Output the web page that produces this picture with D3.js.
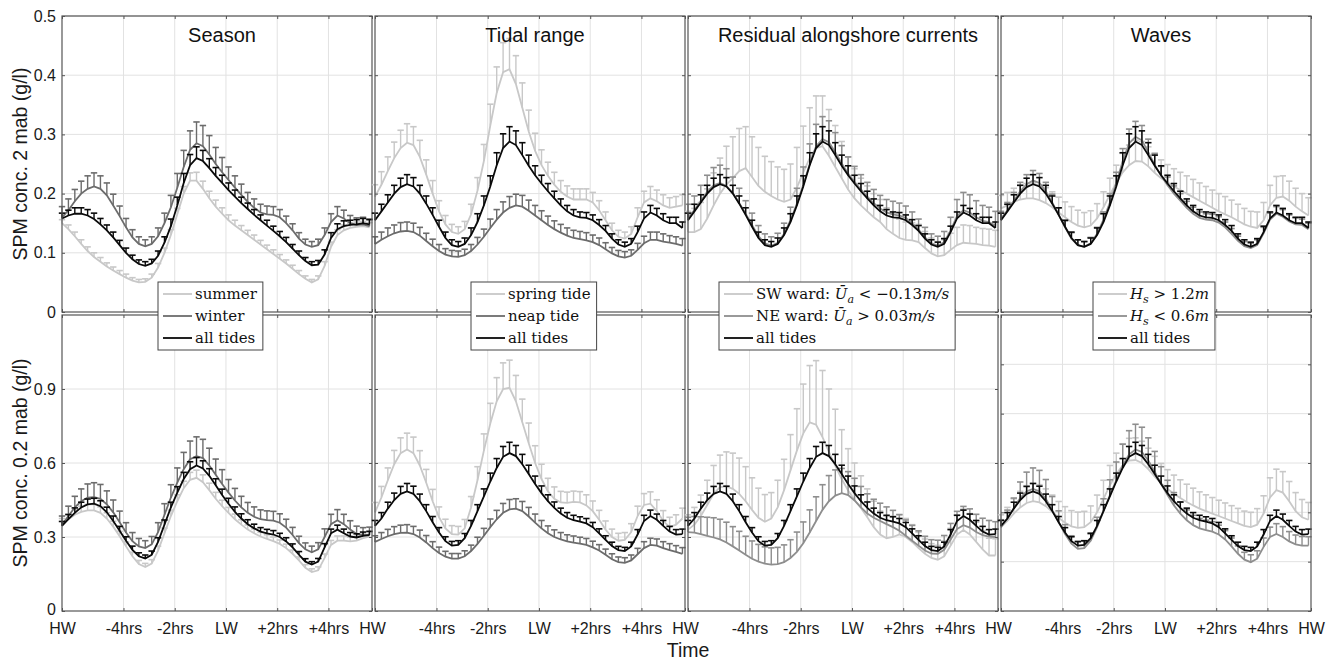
<!DOCTYPE html>
<html>
<head>
<meta charset="utf-8">
<script src="https://cdn.jsdelivr.net/npm/d3@7"></script>
<style>
body { margin: 0; background: #fff; }
text { font-family: "Liberation Sans", Arial, sans-serif; }
</style>
</head>
<body>
<svg id="chart" width="1335" height="668"></svg>
<script>

// time axis: hours relative to low water
var hours = [-6.4,-6.15,-5.9,-5.65,-5.4,-5.15,-4.9,-4.65,-4.4,-4.15,-3.9,-3.65,-3.4,-3.15,-2.9,-2.65,-2.4,-2.15,-1.9,-1.65,
  -1.4,-1.15,-0.9,-0.65,-0.4,-0.15,0.1,0.35,0.6,0.85,1.1,1.35,1.6,1.85,2.1,2.35,2.6,2.85,3.1,3.35,
  3.6,3.85,4.1,4.35,4.6,4.85,5.1,5.35,5.6];
var xDomain = [-6.4, 5.7];
var xTickVals = [-6.4, -4, -2, 0, 2, 4, 5.7];
var xTickLabels = ["HW", "-4hrs", "-2hrs", "LW", "+2hrs", "+4hrs", "HW"];
var titles = ["Season", "Tidal range", "Residual alongshore currents", "Waves"];
var yLabels = ["SPM conc. 2 mab (g/l)", "SPM conc. 0.2 mab (g/l)"];
var yTicksTop = [0, 0.1, 0.2, 0.3, 0.4, 0.5];
var yTicksBottom = [0, 0.3, 0.6, 0.9];
var yTicksWavesBottom = [0, 0.2, 0.4, 0.6, 0.8, 1.0];

// ---- 2 mab (top row) ----
var allTides2 = [0.155,0.170,0.185,0.200,0.211,0.216,0.212,0.200,0.183,0.164,0.144,0.125,0.113,0.110,0.115,0.130,0.152,0.180,0.212,0.248,
  0.277,0.288,0.282,0.265,0.247,0.231,0.217,0.204,0.192,0.180,0.170,0.163,0.160,0.159,0.155,0.147,0.137,0.124,0.114,0.110,
  0.115,0.135,0.158,0.168,0.163,0.155,0.150,0.150,0.142];
var allTides2Err = [0.012,0.012,0.013,0.014,0.015,0.016,0.015,0.014,0.013,0.012,0.011,0.010,0.009,0.009,0.010,0.012,0.014,0.016,0.018,0.021,
  0.024,0.025,0.024,0.021,0.018,0.016,0.014,0.013,0.012,0.011,0.010,0.010,0.009,0.009,0.009,0.009,0.009,0.008,0.008,0.008,
  0.009,0.010,0.011,0.012,0.012,0.011,0.010,0.010,0.010];

var summer2 = [0.150,0.140,0.128,0.115,0.103,0.093,0.085,0.077,0.070,0.064,0.058,0.053,0.050,0.051,0.058,0.075,0.100,0.130,0.165,0.200,
  0.222,0.222,0.208,0.192,0.178,0.166,0.155,0.146,0.138,0.130,0.122,0.114,0.106,0.098,0.090,0.082,0.073,0.064,0.056,0.050,
  0.055,0.078,0.110,0.130,0.138,0.142,0.144,0.145,0.143];
var summer2Err = [0.006,0.007,0.007,0.007,0.007,0.007,0.007,0.006,0.006,0.006,0.006,0.005,0.005,0.005,0.006,0.007,0.008,0.009,0.010,0.012,
  0.013,0.014,0.013,0.012,0.011,0.010,0.009,0.009,0.008,0.008,0.008,0.007,0.007,0.007,0.007,0.006,0.006,0.006,0.005,0.005,
  0.006,0.007,0.008,0.009,0.009,0.008,0.008,0.008,0.008];
var winter2 = [0.160,0.172,0.187,0.200,0.208,0.212,0.208,0.197,0.180,0.162,0.143,0.126,0.115,0.111,0.115,0.128,0.150,0.177,0.210,0.245,
  0.274,0.285,0.280,0.266,0.250,0.236,0.223,0.210,0.198,0.186,0.176,0.168,0.165,0.164,0.160,0.150,0.138,0.124,0.114,0.110,
  0.113,0.130,0.152,0.163,0.158,0.150,0.147,0.148,0.145];
var winter2Err = [0.018,0.019,0.020,0.021,0.022,0.023,0.022,0.021,0.019,0.017,0.015,0.013,0.012,0.011,0.012,0.014,0.017,0.020,0.024,0.028,
  0.032,0.036,0.035,0.032,0.028,0.025,0.022,0.020,0.018,0.016,0.015,0.014,0.014,0.014,0.013,0.012,0.011,0.010,0.009,0.009,
  0.010,0.012,0.014,0.015,0.014,0.013,0.012,0.012,0.012];
var seasonAll2 = [0.158,0.163,0.166,0.166,0.163,0.157,0.148,0.138,0.126,0.113,0.100,0.089,0.081,0.078,0.082,0.095,0.117,0.145,0.180,0.218,
  0.248,0.260,0.255,0.243,0.230,0.218,0.206,0.195,0.184,0.174,0.164,0.155,0.146,0.137,0.128,0.118,0.107,0.096,0.086,0.079,
  0.080,0.097,0.125,0.140,0.145,0.147,0.148,0.150,0.148];
var seasonAll2Err = [0.009,0.009,0.010,0.010,0.010,0.010,0.010,0.009,0.009,0.008,0.008,0.007,0.007,0.007,0.007,0.008,0.010,0.012,0.014,0.016,
  0.018,0.019,0.018,0.016,0.014,0.013,0.012,0.011,0.010,0.010,0.009,0.009,0.009,0.008,0.008,0.008,0.007,0.007,0.006,0.006,
  0.007,0.008,0.009,0.009,0.009,0.008,0.008,0.008,0.008];

var spring2 = [0.195,0.215,0.238,0.260,0.277,0.286,0.282,0.262,0.232,0.200,0.170,0.148,0.135,0.132,0.140,0.165,0.205,0.255,0.315,0.370,
  0.405,0.410,0.385,0.345,0.305,0.272,0.248,0.230,0.215,0.203,0.195,0.190,0.190,0.190,0.185,0.172,0.155,0.138,0.127,0.124,
  0.132,0.160,0.185,0.192,0.187,0.180,0.176,0.178,0.180];
var spring2Err = [0.020,0.022,0.024,0.027,0.030,0.032,0.031,0.028,0.025,0.022,0.018,0.015,0.013,0.012,0.013,0.017,0.022,0.028,0.036,0.044,
  0.050,0.052,0.048,0.042,0.036,0.030,0.026,0.023,0.021,0.019,0.018,0.018,0.018,0.018,0.017,0.016,0.014,0.012,0.011,0.011,
  0.012,0.016,0.019,0.020,0.019,0.018,0.017,0.017,0.018];
var neap2 = [0.115,0.122,0.128,0.133,0.136,0.137,0.135,0.129,0.120,0.111,0.103,0.097,0.094,0.093,0.096,0.103,0.114,0.127,0.142,0.156,
  0.168,0.176,0.180,0.178,0.171,0.163,0.155,0.147,0.140,0.134,0.129,0.125,0.123,0.121,0.118,0.113,0.106,0.099,0.094,0.092,
  0.095,0.105,0.116,0.122,0.122,0.119,0.117,0.115,0.112];
var neap2Err = [0.012,0.013,0.014,0.014,0.015,0.015,0.015,0.014,0.013,0.012,0.011,0.010,0.010,0.010,0.010,0.011,0.012,0.013,0.015,0.017,
  0.018,0.019,0.019,0.019,0.018,0.017,0.016,0.015,0.014,0.014,0.013,0.013,0.013,0.013,0.012,0.012,0.011,0.010,0.010,0.010,
  0.010,0.011,0.012,0.013,0.013,0.013,0.012,0.012,0.012];

var swWard2 = [0.135,0.135,0.140,0.158,0.180,0.200,0.215,0.226,0.238,0.243,0.228,0.213,0.203,0.196,0.190,0.186,0.190,0.210,0.236,0.260,
  0.277,0.280,0.264,0.245,0.226,0.207,0.192,0.180,0.170,0.160,0.152,0.140,0.132,0.125,0.122,0.121,0.118,0.108,0.099,0.094,
  0.096,0.105,0.113,0.117,0.116,0.115,0.113,0.112,0.110];
var swWard2Err = [0.035,0.040,0.045,0.050,0.055,0.060,0.065,0.070,0.072,0.070,0.068,0.065,0.060,0.058,0.055,0.055,0.060,0.068,0.078,0.085,
  0.088,0.085,0.078,0.070,0.062,0.055,0.050,0.046,0.043,0.040,0.038,0.036,0.034,0.032,0.030,0.030,0.030,0.028,0.026,0.025,
  0.026,0.028,0.030,0.030,0.030,0.028,0.028,0.028,0.028];
var neWard2 = [0.160,0.172,0.188,0.203,0.214,0.218,0.213,0.201,0.184,0.166,0.147,0.128,0.116,0.112,0.117,0.132,0.155,0.183,0.215,0.250,
  0.280,0.292,0.287,0.270,0.251,0.234,0.220,0.207,0.195,0.184,0.175,0.168,0.165,0.163,0.159,0.150,0.139,0.126,0.116,0.112,
  0.118,0.138,0.162,0.172,0.168,0.160,0.154,0.152,0.146];
var neWard2Err = [0.022,0.024,0.026,0.028,0.030,0.030,0.029,0.027,0.025,0.022,0.020,0.018,0.016,0.015,0.016,0.018,0.022,0.026,0.030,0.034,
  0.037,0.038,0.036,0.033,0.030,0.028,0.026,0.025,0.024,0.023,0.022,0.022,0.022,0.021,0.020,0.019,0.018,0.017,0.016,0.016,
  0.018,0.022,0.028,0.030,0.030,0.028,0.026,0.025,0.024];

var hsHigh2 = [0.175,0.180,0.186,0.190,0.192,0.192,0.189,0.184,0.177,0.168,0.160,0.152,0.146,0.143,0.146,0.158,0.177,0.198,0.218,0.236,
  0.248,0.255,0.254,0.246,0.235,0.226,0.219,0.212,0.206,0.200,0.194,0.188,0.182,0.176,0.170,0.165,0.160,0.154,0.148,0.144,
  0.142,0.155,0.180,0.193,0.195,0.188,0.178,0.170,0.163];
var hsHigh2Err = [0.022,0.022,0.023,0.024,0.025,0.026,0.026,0.026,0.026,0.026,0.026,0.026,0.026,0.025,0.025,0.025,0.026,0.028,0.030,0.032,
  0.034,0.035,0.034,0.033,0.032,0.031,0.030,0.030,0.030,0.030,0.030,0.030,0.030,0.030,0.030,0.030,0.029,0.028,0.027,0.026,
  0.027,0.030,0.034,0.036,0.035,0.033,0.031,0.030,0.030];
var hsLow2 = [0.158,0.172,0.188,0.204,0.216,0.222,0.218,0.204,0.185,0.164,0.143,0.124,0.113,0.110,0.116,0.132,0.156,0.185,0.218,0.255,
  0.285,0.296,0.290,0.270,0.249,0.230,0.214,0.200,0.188,0.176,0.166,0.159,0.156,0.155,0.151,0.143,0.132,0.120,0.111,0.108,
  0.113,0.133,0.156,0.166,0.161,0.153,0.148,0.147,0.140];
var hsLow2Err = [0.012,0.013,0.014,0.015,0.016,0.017,0.016,0.015,0.014,0.012,0.011,0.010,0.009,0.009,0.010,0.011,0.013,0.015,0.018,0.021,
  0.024,0.026,0.025,0.022,0.019,0.016,0.014,0.013,0.012,0.011,0.011,0.010,0.010,0.010,0.010,0.009,0.009,0.008,0.008,0.008,
  0.009,0.010,0.011,0.012,0.012,0.011,0.011,0.010,0.010];

// ---- 0.2 mab (bottom row) ----
var allTides02 = [0.345,0.375,0.415,0.450,0.475,0.485,0.475,0.445,0.405,0.360,0.318,0.283,0.265,0.268,0.295,0.345,0.405,0.465,0.525,0.580,
  0.625,0.640,0.628,0.595,0.555,0.515,0.478,0.445,0.418,0.395,0.378,0.368,0.362,0.355,0.340,0.315,0.288,0.263,0.247,0.243,
  0.262,0.310,0.365,0.385,0.370,0.345,0.322,0.310,0.312];
var allTides02Err = [0.022,0.024,0.026,0.028,0.030,0.032,0.031,0.029,0.026,0.023,0.020,0.018,0.017,0.017,0.019,0.022,0.026,0.030,0.034,0.038,
  0.042,0.044,0.043,0.040,0.036,0.032,0.029,0.026,0.024,0.022,0.021,0.020,0.020,0.020,0.019,0.018,0.017,0.016,0.015,0.015,
  0.017,0.020,0.023,0.024,0.023,0.022,0.021,0.020,0.020];

var summer02 = [0.355,0.372,0.390,0.402,0.408,0.408,0.398,0.375,0.342,0.303,0.262,0.222,0.190,0.178,0.192,0.245,0.315,0.385,0.445,0.498,
  0.532,0.540,0.522,0.490,0.455,0.425,0.398,0.372,0.350,0.330,0.315,0.302,0.292,0.283,0.272,0.255,0.232,0.205,0.175,0.158,
  0.165,0.215,0.268,0.285,0.285,0.282,0.285,0.295,0.302];
var summer02Err = [0.020,0.021,0.022,0.023,0.024,0.024,0.024,0.023,0.022,0.020,0.018,0.016,0.015,0.015,0.016,0.018,0.021,0.024,0.026,0.028,
  0.030,0.031,0.030,0.028,0.026,0.024,0.022,0.021,0.020,0.019,0.018,0.017,0.017,0.017,0.016,0.016,0.015,0.014,0.013,0.013,
  0.014,0.016,0.018,0.019,0.019,0.018,0.018,0.018,0.018];
var winter02 = [0.350,0.385,0.420,0.445,0.460,0.462,0.455,0.432,0.400,0.360,0.318,0.283,0.262,0.255,0.270,0.320,0.390,0.460,0.520,0.575,
  0.615,0.628,0.620,0.590,0.552,0.515,0.480,0.448,0.420,0.398,0.382,0.372,0.368,0.366,0.358,0.338,0.308,0.275,0.250,0.238,
  0.250,0.300,0.352,0.368,0.352,0.330,0.312,0.308,0.310];
var winter02Err = [0.035,0.040,0.045,0.050,0.055,0.058,0.058,0.055,0.050,0.045,0.040,0.035,0.032,0.030,0.032,0.038,0.045,0.052,0.060,0.068,
  0.074,0.078,0.076,0.070,0.064,0.058,0.053,0.049,0.045,0.042,0.040,0.038,0.038,0.038,0.036,0.034,0.031,0.028,0.026,0.025,
  0.027,0.033,0.040,0.043,0.040,0.036,0.032,0.030,0.030];
var seasonAll02 = [0.345,0.372,0.398,0.420,0.432,0.435,0.425,0.400,0.365,0.325,0.285,0.248,0.222,0.213,0.228,0.280,0.350,0.420,0.480,0.535,
  0.575,0.590,0.578,0.548,0.510,0.470,0.435,0.402,0.375,0.352,0.335,0.322,0.315,0.310,0.300,0.282,0.258,0.228,0.200,0.188,
  0.200,0.258,0.315,0.330,0.315,0.302,0.298,0.305,0.308];
var seasonAll02Err = [0.018,0.019,0.020,0.021,0.022,0.022,0.022,0.021,0.020,0.018,0.016,0.015,0.014,0.014,0.015,0.017,0.019,0.021,0.024,0.027,
  0.030,0.032,0.031,0.029,0.026,0.024,0.022,0.020,0.019,0.018,0.017,0.016,0.016,0.016,0.015,0.015,0.014,0.013,0.012,0.012,
  0.013,0.015,0.017,0.018,0.017,0.016,0.015,0.015,0.015];

var spring02 = [0.400,0.460,0.530,0.595,0.640,0.655,0.640,0.590,0.520,0.445,0.380,0.335,0.312,0.310,0.335,0.420,0.530,0.650,0.760,0.850,
  0.900,0.905,0.850,0.765,0.680,0.600,0.535,0.485,0.455,0.440,0.438,0.442,0.440,0.428,0.405,0.370,0.330,0.300,0.285,0.288,
  0.320,0.385,0.430,0.435,0.405,0.365,0.340,0.350,0.375];
var spring02Err = [0.040,0.045,0.050,0.056,0.062,0.066,0.065,0.060,0.054,0.048,0.042,0.037,0.034,0.033,0.036,0.044,0.055,0.068,0.082,0.096,
  0.106,0.112,0.105,0.094,0.082,0.070,0.060,0.053,0.048,0.045,0.044,0.044,0.044,0.043,0.041,0.038,0.035,0.032,0.030,0.030,
  0.034,0.040,0.046,0.048,0.046,0.042,0.040,0.040,0.042];
var neap02 = [0.280,0.292,0.303,0.312,0.317,0.318,0.312,0.298,0.278,0.255,0.235,0.220,0.212,0.212,0.222,0.243,0.272,0.305,0.340,0.372,
  0.398,0.412,0.415,0.405,0.383,0.358,0.335,0.315,0.300,0.290,0.282,0.277,0.273,0.268,0.258,0.245,0.228,0.210,0.198,0.195,
  0.205,0.230,0.255,0.268,0.265,0.255,0.247,0.240,0.232];
var neap02Err = [0.025,0.026,0.028,0.030,0.031,0.032,0.031,0.030,0.028,0.026,0.024,0.022,0.021,0.021,0.022,0.024,0.027,0.030,0.033,0.036,
  0.038,0.040,0.040,0.039,0.037,0.035,0.032,0.030,0.029,0.028,0.027,0.027,0.026,0.026,0.025,0.024,0.023,0.022,0.021,0.021,
  0.022,0.024,0.026,0.027,0.027,0.026,0.026,0.025,0.025];

var swWard02 = [0.330,0.350,0.385,0.430,0.475,0.502,0.505,0.495,0.475,0.445,0.410,0.378,0.362,0.375,0.420,0.490,0.570,0.650,0.720,0.765,
  0.755,0.705,0.645,0.588,0.535,0.488,0.450,0.418,0.380,0.340,0.310,0.295,0.300,0.310,0.300,0.280,0.255,0.232,0.215,0.208,
  0.222,0.265,0.310,0.328,0.310,0.280,0.250,0.225,0.225];
var swWard02Err = [0.060,0.070,0.085,0.100,0.115,0.130,0.140,0.145,0.145,0.140,0.130,0.120,0.110,0.105,0.110,0.125,0.145,0.170,0.200,0.230,
  0.260,0.270,0.255,0.230,0.200,0.170,0.150,0.130,0.115,0.105,0.095,0.090,0.085,0.080,0.075,0.070,0.065,0.060,0.058,0.058,
  0.062,0.070,0.080,0.085,0.085,0.080,0.075,0.070,0.068];
var neWard02 = [0.320,0.318,0.312,0.305,0.298,0.290,0.278,0.262,0.245,0.228,0.212,0.200,0.192,0.188,0.190,0.198,0.215,0.240,0.275,0.318,
  0.365,0.410,0.445,0.468,0.478,0.470,0.448,0.420,0.395,0.378,0.365,0.352,0.340,0.325,0.305,0.285,0.265,0.245,0.233,0.232,
  0.248,0.290,0.332,0.348,0.338,0.320,0.308,0.302,0.300];
var neWard02Err = [0.060,0.065,0.070,0.075,0.080,0.082,0.082,0.080,0.078,0.075,0.072,0.070,0.068,0.068,0.068,0.070,0.074,0.080,0.086,0.092,
  0.098,0.102,0.104,0.104,0.100,0.095,0.090,0.085,0.080,0.075,0.072,0.070,0.068,0.066,0.064,0.062,0.060,0.058,0.056,0.055,
  0.058,0.065,0.072,0.076,0.076,0.072,0.068,0.065,0.062];

var hsHigh02 = [0.340,0.365,0.395,0.420,0.438,0.445,0.440,0.425,0.402,0.378,0.358,0.343,0.337,0.340,0.360,0.400,0.455,0.510,0.555,0.590,
  0.610,0.612,0.600,0.575,0.545,0.518,0.495,0.475,0.458,0.442,0.428,0.415,0.405,0.395,0.385,0.375,0.365,0.355,0.345,0.340,
  0.350,0.395,0.460,0.490,0.480,0.445,0.405,0.380,0.370];
var hsHigh02Err = [0.050,0.055,0.060,0.065,0.070,0.072,0.072,0.070,0.068,0.066,0.065,0.064,0.064,0.064,0.066,0.070,0.075,0.080,0.085,0.088,
  0.090,0.090,0.088,0.085,0.082,0.080,0.078,0.076,0.074,0.072,0.070,0.068,0.066,0.065,0.064,0.063,0.062,0.061,0.060,0.060,
  0.065,0.072,0.080,0.085,0.085,0.080,0.075,0.072,0.070];
var hsLow02 = [0.340,0.375,0.418,0.458,0.485,0.495,0.485,0.455,0.410,0.360,0.312,0.273,0.252,0.255,0.285,0.340,0.405,0.470,0.530,0.590,
  0.635,0.655,0.645,0.610,0.565,0.515,0.470,0.428,0.395,0.368,0.348,0.335,0.328,0.322,0.310,0.290,0.262,0.232,0.208,0.198,
  0.212,0.260,0.300,0.312,0.300,0.282,0.270,0.265,0.265];
var hsLow02Err = [0.030,0.034,0.040,0.065,0.078,0.085,0.085,0.078,0.054,0.046,0.038,0.032,0.028,0.028,0.032,0.040,0.050,0.062,0.074,0.086,
  0.096,0.102,0.100,0.092,0.082,0.070,0.060,0.052,0.046,0.042,0.040,0.040,0.040,0.040,0.038,0.036,0.034,0.032,0.030,0.030,
  0.032,0.036,0.040,0.042,0.042,0.040,0.038,0.037,0.036];

// legend texts, split into [text, style] pieces (i = italic, s = italic subscript)
var legendLabels = [
  [[["summer", ""]], [["winter", ""]], [["all tides", ""]]],
  [[["spring tide", ""]], [["neap tide", ""]], [["all tides", ""]]],
  [[["SW ward:  ", ""], ["U\u0304", "i"], ["a", "s"], [" < \u22120.13", ""], ["m/s", "i"]],
   [["NE ward:  ", ""], ["U\u0304", "i"], ["a", "s"], [" > 0.03", ""], ["m/s", "i"]],
   [["all tides", ""]]],
  [[["H", "i"], ["s", "s"], [" > 1.2", ""], ["m", "i"]],
   [["H", "i"], ["s", "s"], [" < 0.6", ""], ["m", "i"]],
   [["all tides", ""]]]
];

var light = "#c8c8c8", dark = "#6c6c6c", mid = "#8e8e8e", black = "#0a0a0a";

var panelLeft = [62, 375, 688, 1001], panelW = 310;
var rows = [
  {top: 16, bottom: 312, max: 0.5, ticks: yTicksTop},
  {top: 315, bottom: 611, max: 1.2, ticks: yTicksBottom}
];
var legendLeft = [158, 471, 719, 1093];

var panels = [
  {row: 0, col: 0, series: [[summer2, summer2Err, light], [winter2, winter2Err, dark], [seasonAll2, seasonAll2Err, black]]},
  {row: 0, col: 1, series: [[spring2, spring2Err, light], [neap2, neap2Err, dark], [allTides2, allTides2Err, black]]},
  {row: 0, col: 2, series: [[swWard2, swWard2Err, light], [neWard2, neWard2Err, mid], [allTides2, allTides2Err, black]]},
  {row: 0, col: 3, series: [[hsHigh2, hsHigh2Err, light], [hsLow2, hsLow2Err, mid], [allTides2, allTides2Err, black]]},
  {row: 1, col: 0, series: [[summer02, summer02Err, light], [winter02, winter02Err, dark], [seasonAll02, seasonAll02Err, black]]},
  {row: 1, col: 1, series: [[spring02, spring02Err, light], [neap02, neap02Err, dark], [allTides02, allTides02Err, black]]},
  {row: 1, col: 2, series: [[swWard02, swWard02Err, light], [neWard02, neWard02Err, mid], [allTides02, allTides02Err, black]]},
  {row: 1, col: 3, yTicks: yTicksWavesBottom, series: [[hsHigh02, hsHigh02Err, light], [hsLow02, hsLow02Err, mid], [allTides02, allTides02Err, black]]}
];

var svg = d3.select("#chart");

function drawPanel(p) {
    var row = rows[p.row];
    var x0 = panelLeft[p.col];
    var x = d3.scaleLinear().domain(xDomain).range([x0, x0 + panelW]);
    var y = d3.scaleLinear().domain([0, row.max]).range([row.bottom, row.top]);
    var yt = p.yTicks || row.ticks;
    var g = svg.append("g");

    // grid
    g.selectAll(".gx").data(xTickVals.slice(1, -1)).enter()
        .append("line")
        .attr("x1", function(d) { return x(d); })
        .attr("x2", function(d) { return x(d); })
        .attr("y1", row.top).attr("y2", row.bottom)
        .style("stroke", "#e2e2e2").style("stroke-width", 1);
    g.selectAll(".gy").data(yt.filter(function(d) { return d > 0; })).enter()
        .append("line")
        .attr("x1", x0).attr("x2", x0 + panelW)
        .attr("y1", function(d) { return y(d); })
        .attr("y2", function(d) { return y(d); })
        .style("stroke", "#e2e2e2").style("stroke-width", 1);

    // series with upper error bars
    var line = d3.line()
        .x(function(d, i) { return x(hours[i]); })
        .y(function(d) { return y(d); });
    p.series.forEach(function(s) {
        var vals = s[0], errs = s[1], col = s[2];
        var sg = g.append("g");
        sg.append("path")
            .attr("d", line(vals))
            .style("fill", "none")
            .style("stroke", col)
            .style("stroke-width", 1.8);
        var bars = sg.selectAll(".eb").data(vals).enter().append("g");
        bars.append("line")
            .attr("x1", function(d, i) { return x(hours[i]); })
            .attr("x2", function(d, i) { return x(hours[i]); })
            .attr("y1", function(d) { return y(d); })
            .attr("y2", function(d, i) { return y(d + errs[i]); })
            .style("stroke", col).style("stroke-width", 1.4);
        bars.append("line")
            .attr("x1", function(d, i) { return x(hours[i]) - 3.2; })
            .attr("x2", function(d, i) { return x(hours[i]) + 3.2; })
            .attr("y1", function(d, i) { return y(d + errs[i]); })
            .attr("y2", function(d, i) { return y(d + errs[i]); })
            .style("stroke", col).style("stroke-width", 1.6);
    });

    // axes, ticks inward on every side
    var ax = [
        {a: d3.axisBottom(x).tickValues(xTickVals), t: "translate(0," + row.bottom + ")", lab: p.row == 1},
        {a: d3.axisTop(x).tickValues(xTickVals), t: "translate(0," + row.top + ")", lab: false},
        {a: d3.axisLeft(y).tickValues(yt), t: "translate(" + x0 + ",0)", lab: p.col == 0},
        {a: d3.axisRight(y).tickValues(yt), t: "translate(" + (x0 + panelW) + ",0)", lab: false}
    ];
    ax.forEach(function(o, k) {
        o.a.tickSizeInner(-3).tickSizeOuter(0);
        if (!o.lab) o.a.tickFormat("");
        else if (k == 0) o.a.tickFormat(function(d, i) {
            // the left "HW" of inner panels sits under the right "HW" of the previous panel
            return (i == 0 && p.col > 0) ? "" : xTickLabels[i];
        }).tickPadding(12);
        else o.a.tickFormat(function(d) { return d; }).tickPadding(6);
        var a = g.append("g").attr("transform", o.t).call(o.a);
        a.select(".domain").remove();
        a.selectAll("line").style("stroke", "#555");
        a.selectAll("text")
            .style("font-family", "'Liberation Sans', Arial, sans-serif")
            .style("font-size", "16px")
            .style("fill", "#1a1a1a");
        // lift the bottom "0" a little so it clears the HW label
        if (k == 2 && p.row == 1) {
            a.selectAll("text").filter(function(d) { return d === 0; }).attr("dy", "0.2em");
        }
    });

    g.append("rect")
        .attr("x", x0).attr("y", row.top)
        .attr("width", panelW).attr("height", row.bottom - row.top)
        .style("fill", "none").style("stroke", "#555").style("stroke-width", 1.2);

    if (p.row == 0) {
        g.append("text")
            .attr("x", x0 + panelW / 2 + 5)
            .attr("y", 42)
            .style("text-anchor", "middle")
            .style("font-size", "20px")
            .style("fill", "#111")
            .text(titles[p.col]);
    }
}

panels.forEach(drawPanel);

// y labels
yLabels.forEach(function(lab, r) {
    var cy = (rows[r].top + rows[r].bottom) / 2;
    svg.append("text")
        .attr("transform", "translate(27," + cy + ") rotate(-90)")
        .style("text-anchor", "middle")
        .style("font-size", "19.5px")
        .style("fill", "#1a1a1a")
        .text(lab);
});

svg.append("text")
    .attr("x", 688).attr("y", 657)
    .style("text-anchor", "middle")
    .style("font-size", "19.5px")
    .style("fill", "#1a1a1a")
    .text("Time");

// legends, on top of everything
var legendColors = [[light, dark, black], [light, dark, black], [light, mid, black], [light, mid, black]];
legendLabels.forEach(function(entries, c) {
    var lx = legendLeft[c], ly = 282;
    var lg = svg.append("g");
    var box = lg.append("rect")
        .attr("x", lx).attr("y", ly)
        .attr("height", 68)
        .style("fill", "#fff").style("stroke", "#444").style("stroke-width", 1);
    var maxW = 0;
    entries.forEach(function(pieces, j) {
        var cy = ly + 12 + j * 22;
        lg.append("line")
            .attr("x1", lx + 5).attr("x2", lx + 34)
            .attr("y1", cy).attr("y2", cy)
            .style("stroke", legendColors[c][j]).style("stroke-width", 1.8);
        var t = lg.append("text")
            .attr("x", lx + 37).attr("y", cy + 5)
            .style("font-family", "'DejaVu Serif', 'Liberation Serif', serif")
            .style("font-size", "15px")
            .style("fill", "#111");
        var prevSub = false;
        pieces.forEach(function(pc) {
            var ts = t.append("tspan").text(pc[0]);
            if (pc[1] == "i" || pc[1] == "s") ts.style("font-style", "italic");
            if (pc[1] == "s") ts.style("font-size", "11px").attr("dy", 4);
            else if (prevSub) ts.attr("dy", -4);
            prevSub = pc[1] == "s";
        });
        maxW = Math.max(maxW, t.node().getComputedTextLength());
    });
    box.attr("width", 37 + maxW + 6);
});

</script>
</body>
</html>
